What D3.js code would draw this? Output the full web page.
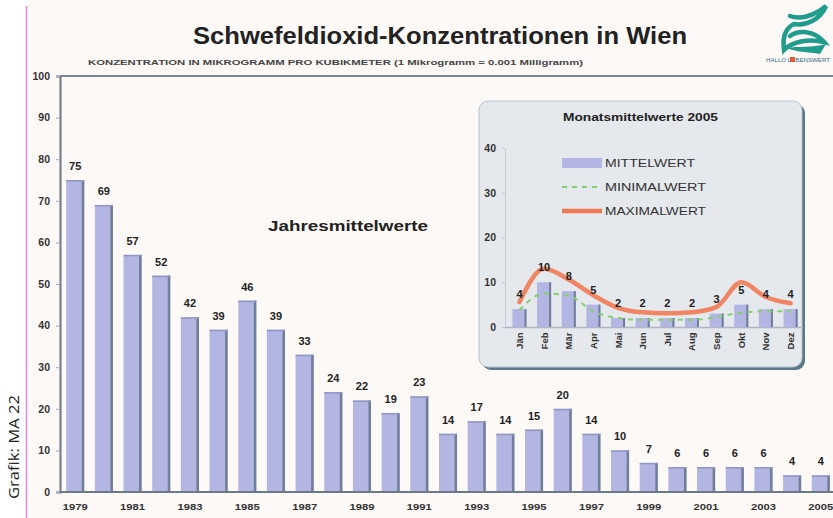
<!DOCTYPE html>
<html>
<head>
<meta charset="utf-8">
<script src="https://cdn.jsdelivr.net/npm/d3@7"></script>
<style>
  body { margin: 0; background: #fff; }
  text { font-family: "Liberation Sans", Arial, sans-serif; }
</style>
</head>
<body>
<div id="chart"></div>
<script>
// Jahresmittelwerte
var years = [1979, 1980, 1981, 1982, 1983, 1984, 1985, 1986, 1987, 1988, 1989, 1990, 1991, 1992,
             1993, 1994, 1995, 1996, 1997, 1998, 1999, 2000, 2001, 2002, 2003, 2004, 2005];
var yearValues = [75, 69, 57, 52, 42, 39, 46, 39, 33, 24, 22, 19, 23, 14,
                  17, 14, 15, 20, 14, 10, 7, 6, 6, 6, 6, 4, 4];
var yTicks = [0, 10, 20, 30, 40, 50, 60, 70, 80, 90, 100];

// Monatsmittelwerte 2005
var months = ["Jän", "Feb", "Mär", "Apr", "Mai", "Jun", "Jul", "Aug", "Sep", "Okt", "Nov", "Dez"];
var mittel = [4, 10, 8, 5, 2, 2, 2, 2, 3, 5, 4, 4];
var minimal = [3.8, 7.5, 7, 3.5, 2, 1.6, 1.6, 1.6, 2.2, 3.2, 3.5, 3.5];
var maximal = [5.6, 13, 10.6, 7.1, 4.3, 3.3, 3.1, 3.3, 4.5, 10, 6.7, 5.3];
var insetTicks = [0, 10, 20, 30, 40];

var width = 833, height = 518;

var svg = d3.select("#chart").append("svg")
    .attr("width", width)
    .attr("height", height);

// background
svg.append("rect").attr("x", 27).attr("y", 0).attr("width", width - 27).attr("height", height)
    .attr("fill", "#fdf9f7");
svg.append("line").attr("x1", 26.5).attr("x2", 26.5).attr("y1", 6).attr("y2", height)
    .attr("stroke", "#d58ad5").attr("stroke-width", 1.5);

// side note
svg.append("text")
    .attr("transform", "translate(19,447) rotate(-90)")
    .attr("text-anchor", "middle")
    .attr("textLength", 104).attr("lengthAdjust", "spacingAndGlyphs")
    .style("font-family", "'Open Sans', 'Noto Sans', sans-serif")
    .style("font-size", "14px")
    .attr("fill", "#222")
    .text("Grafik: MA 22");

// title
svg.append("text")
    .attr("x", 193).attr("y", 44)
    .attr("textLength", 494).attr("lengthAdjust", "spacingAndGlyphs")
    .style("font-size", "23px").style("font-weight", "bold")
    .attr("fill", "#222")
    .text("Schwefeldioxid-Konzentrationen in Wien");

svg.append("text")
    .attr("x", 88).attr("y", 65)
    .attr("textLength", 495).attr("lengthAdjust", "spacingAndGlyphs")
    .style("font-size", "7.5px").style("font-weight", "bold")
    .attr("fill", "#444")
    .text("KONZENTRATION IN MIKROGRAMM PRO KUBIKMETER (1 Mikrogramm = 0.001 Milligramm)");

// logo
var logo = svg.append("g");
logo.append("path")
    .attr("d", "M790,16 C800,20 814,16 826,6 C820,20 806,26 794,24 C786,28 782,36 784,50 C792,42 808,38 824,42 C814,30 798,30 790,36")
    .attr("fill", "none").attr("stroke", "#1f9c8c").attr("stroke-width", 4.5).attr("stroke-linecap", "round");
logo.append("path")
    .attr("d", "M786,48 C798,46 812,48 826,44 L820,54 C808,52 796,52 786,48 Z")
    .attr("fill", "#1f9c8c");
logo.append("text").attr("x", 766).attr("y", 62)
    .attr("textLength", 64).attr("lengthAdjust", "spacingAndGlyphs")
    .style("font-size", "5px").attr("fill", "#3b6f86")
    .text("HALLO LEBENSWERT");
logo.append("rect").attr("x", 790).attr("y", 57).attr("width", 5).attr("height", 5).attr("fill", "#e25a3a");

// main scales
var x = d3.scaleBand()
    .domain(years)
    .range([61, 835])
    .paddingInner(0.37)
    .paddingOuter(0.18);

var y = d3.scaleLinear()
    .domain([0, 100])
    .range([492, 76]);

// top frame line
svg.append("line").attr("x1", 60).attr("x2", width).attr("y1", 76).attr("y2", 76)
    .attr("stroke", "#7b8794").attr("stroke-width", 2);

var yAxis = svg.append("g")
    .attr("class", "y-axis")
    .attr("transform", "translate(60,0)")
    .call(d3.axisLeft(y).tickValues(yTicks).tickSize(4).tickPadding(6));
yAxis.select(".domain").attr("stroke", "#6c7a88").attr("stroke-width", 2);
yAxis.selectAll(".tick line").attr("stroke", "#aab");
yAxis.selectAll("text")
    .style("font-size", "10.5px").style("font-weight", "bold")
    .attr("fill", "#333");

var bars = svg.append("g").selectAll("g")
    .data(years)
    .enter().append("g");

bars.append("rect")
    .attr("x", d => x(d))
    .attr("y", (d, i) => y(yearValues[i]))
    .attr("width", x.bandwidth())
    .attr("height", (d, i) => y(0) - y(yearValues[i]))
    .attr("fill", "#b3b6e3");

bars.append("rect")
    .attr("x", d => x(d) + x.bandwidth() - 2.5)
    .attr("y", (d, i) => y(yearValues[i]))
    .attr("width", 2.5)
    .attr("height", (d, i) => y(0) - y(yearValues[i]))
    .attr("fill", "#6f7e99");

bars.append("rect")
    .attr("x", d => x(d))
    .attr("y", (d, i) => y(yearValues[i]))
    .attr("width", x.bandwidth())
    .attr("height", 1.5)
    .attr("fill", "#8e96c4");

svg.append("g").selectAll("text")
    .data(years)
    .enter().append("text")
    .attr("text-anchor", "middle")
    .attr("x", d => x(d) + x.bandwidth() / 2)
    .attr("y", (d, i) => y(yearValues[i]) - 10)
    .style("font-size", "11px").style("font-weight", "bold")
    .attr("fill", "#222")
    .text((d, i) => yearValues[i]);

var xAxis = svg.append("g")
    .attr("class", "x-axis")
    .attr("transform", "translate(0,492)")
    .call(d3.axisBottom(x).tickValues(years.filter(d => (d - 1979) % 2 === 0)).tickSize(0).tickPadding(11));
xAxis.select(".domain").attr("d", "M60,0H" + width).attr("stroke", "#6c7a88").attr("stroke-width", 2);
xAxis.selectAll("text")
    .attr("textLength", 25).attr("lengthAdjust", "spacingAndGlyphs")
    .style("font-size", "9.5px").style("font-weight", "bold")
    .attr("fill", "#333");

svg.append("text")
    .attr("x", 268).attr("y", 231)
    .attr("textLength", 160).attr("lengthAdjust", "spacingAndGlyphs")
    .style("font-size", "15px").style("font-weight", "bold")
    .attr("fill", "#222")
    .text("Jahresmittelwerte");

// inset
var inset = svg.append("g");

inset.append("rect")
    .attr("x", 482).attr("y", 104).attr("width", 323).attr("height", 266).attr("rx", 9)
    .attr("fill", "#5b7889");
inset.append("rect")
    .attr("x", 479).attr("y", 101).attr("width", 323).attr("height", 266).attr("rx", 9)
    .attr("fill", "#e5e8ec").attr("stroke", "#b6c2cc").attr("stroke-width", 1);

inset.append("text")
    .attr("x", 563).attr("y", 121)
    .attr("textLength", 155).attr("lengthAdjust", "spacingAndGlyphs")
    .style("font-size", "10px").style("font-weight", "bold")
    .attr("fill", "#222")
    .text("Monatsmittelwerte 2005");

var mx = d3.scaleBand()
    .domain(months)
    .range([507, 803])
    .paddingInner(0.43)
    .paddingOuter(0.22);

var my = d3.scaleLinear()
    .domain([0, 40])
    .range([327, 148]);

var myAxis = inset.append("g")
    .attr("transform", "translate(505,0)")
    .call(d3.axisLeft(my).tickValues(insetTicks).tickSize(3).tickPadding(6));
myAxis.select(".domain").attr("stroke", "#c4c8d0").attr("stroke-width", 1);
myAxis.selectAll(".tick line").attr("stroke", "#c4c8d0");
myAxis.selectAll("text")
    .style("font-size", "10.5px").style("font-weight", "bold")
    .attr("fill", "#333");

var mxAxis = inset.append("g")
    .attr("transform", "translate(0,327.5)")
    .call(d3.axisBottom(mx).tickSize(0).tickPadding(0));
mxAxis.select(".domain").attr("d", "M505,0H803").attr("stroke", "#b0b6c8").attr("stroke-width", 1.5);
mxAxis.selectAll("text")
    .attr("transform", "rotate(-90)")
    .attr("text-anchor", "end")
    .attr("dy", null)
    .attr("x", -5)
    .attr("y", 3.5)
    .style("font-size", "9.5px").style("font-weight", "bold")
    .attr("fill", "#333");

var mbars = inset.append("g").selectAll("g")
    .data(months)
    .enter().append("g");

mbars.append("rect")
    .attr("x", d => mx(d))
    .attr("y", (d, i) => my(mittel[i]))
    .attr("width", mx.bandwidth())
    .attr("height", (d, i) => my(0) - my(mittel[i]))
    .attr("fill", "#b3b6e3");

mbars.append("rect")
    .attr("x", d => mx(d) + mx.bandwidth() - 2)
    .attr("y", (d, i) => my(mittel[i]))
    .attr("width", 2)
    .attr("height", (d, i) => my(0) - my(mittel[i]))
    .attr("fill", "#6f7e99");

var mline = d3.line()
    .x((d, i) => mx(months[i]) + mx.bandwidth() / 2)
    .y(d => my(d))
    .curve(d3.curveMonotoneX);

inset.append("path")
    .datum(minimal)
    .attr("d", mline)
    .attr("fill", "none")
    .attr("stroke", "#86cf6e")
    .attr("stroke-width", 2)
    .attr("stroke-dasharray", "5,5");

inset.append("path")
    .datum(maximal)
    .attr("d", mline)
    .attr("fill", "none")
    .attr("stroke", "#f27a52")
    .attr("stroke-width", 4.5)
    .attr("stroke-linecap", "round")
    .attr("opacity", 0.9);

inset.append("g").selectAll("text")
    .data(months)
    .enter().append("text")
    .attr("text-anchor", "middle")
    .attr("x", d => mx(d) + mx.bandwidth() / 2)
    .attr("y", (d, i) => my(mittel[i]) - 11)
    .style("font-size", "11px").style("font-weight", "bold")
    .attr("fill", "#222")
    .text((d, i) => mittel[i]);

// legend
var legendItems = ["MITTELWERT", "MINIMALWERT", "MAXIMALWERT"];
var legend = inset.append("g").selectAll("g")
    .data(legendItems)
    .enter().append("g")
    .attr("transform", (d, i) => "translate(562," + (163 + i * 24) + ")");

legend.filter((d, i) => i === 0).append("rect")
    .attr("x", 0).attr("y", -5).attr("width", 40).attr("height", 10)
    .attr("fill", "#b3b6e3");
legend.filter((d, i) => i === 1).append("line")
    .attr("x1", 0).attr("x2", 40)
    .attr("stroke", "#86cf6e").attr("stroke-width", 2).attr("stroke-dasharray", "5,5");
legend.filter((d, i) => i === 2).append("line")
    .attr("x1", 0).attr("x2", 40)
    .attr("stroke", "#f27a52").attr("stroke-width", 4.5);

legend.append("text")
    .attr("x", 43).attr("y", 4)
    .attr("textLength", (d, i) => i === 0 ? 90 : 101)
    .attr("lengthAdjust", "spacingAndGlyphs")
    .style("font-size", "11px")
    .attr("fill", "#333")
    .text(d => d);
</script>
</body>
</html>
